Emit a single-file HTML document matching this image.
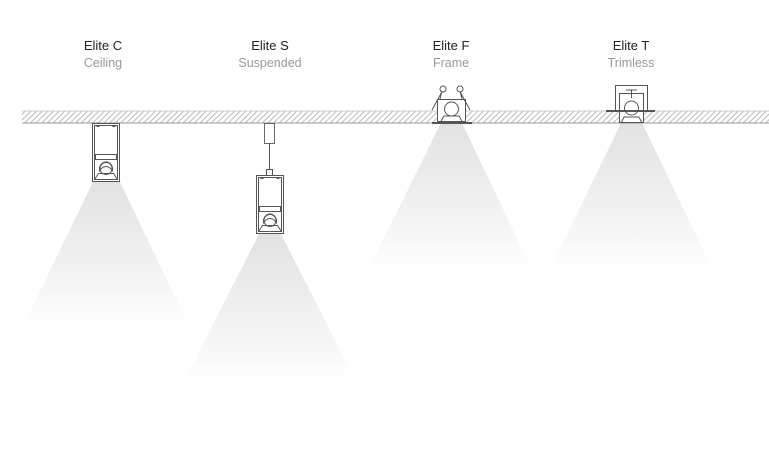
<!DOCTYPE html>
<html><head><meta charset="utf-8"><style>
body{margin:0;background:#fff;width:769px;height:450px;overflow:hidden}
svg{display:block}
text{font-family:"Liberation Sans",sans-serif;text-anchor:middle}
</style></head><body>
<svg width="769" height="450" viewBox="0 0 769 450">
<defs>
<pattern id="h" width="4" height="4" patternUnits="userSpaceOnUse" patternTransform="rotate(45)">
<rect width="4" height="4" fill="#fff"/><line x1="0" y1="0" x2="0" y2="4" stroke="#a8a8a8" stroke-width="1.6"/></pattern>
<linearGradient id="g" x1="0" y1="0" x2="0" y2="1">
<stop offset="0" stop-color="#e2e2e2"/><stop offset="0.6" stop-color="#f2f2f2"/><stop offset="1" stop-color="#fff"/></linearGradient>
<g id="lum" fill="none" stroke="#555" stroke-width="1">
<rect x="0" y="0" width="27" height="58" fill="#fff"/>
<rect x="2" y="2" width="23" height="54"/>
<rect x="3" y="31" width="21" height="5"/>
<path d="M7 48 A7 8 0 0 1 20 48 L20 44 A7 9 0 0 0 7 44Z"/>
<circle cx="13.5" cy="45" r="6"/>
<path d="M2 56 L6 50 L21 50 L25 56"/>
<path d="M4 3 h3 M20 3 h3"/>
</g>
</defs>
<text x="103" y="50" font-size="13" fill="#222">Elite C</text>
<text x="103" y="67" font-size="12.5" fill="#999">Ceiling</text>
<text x="270" y="50" font-size="13" fill="#222">Elite S</text>
<text x="270" y="67" font-size="12.5" fill="#999">Suspended</text>
<text x="451" y="50" font-size="13" fill="#222">Elite F</text>
<text x="451" y="67" font-size="12.5" fill="#999">Frame</text>
<text x="631" y="50" font-size="13" fill="#222">Elite T</text>
<text x="631" y="67" font-size="12.5" fill="#999">Trimless</text>

<polygon points="93,182 120,182 190,328 22,328" fill="url(#g)"/>
<polygon points="259,234 281,234 356,382 184,382" fill="url(#g)"/>
<polygon points="441,123 462,123 533,272 367,272" fill="url(#g)"/>
<polygon points="621,123 642,123 714,272 549,272" fill="url(#g)"/>

<rect x="22" y="111" width="747" height="12" fill="url(#h)"/>
<line x1="22" y1="123" x2="769" y2="123" stroke="#999"/>
<line x1="22" y1="111" x2="769" y2="111" stroke="#ccc"/>

<use href="#lum" x="92.5" y="123.5"/>
<rect x="264.5" y="123.5" width="10" height="20" fill="#fff" stroke="#666"/>
<line x1="269.5" y1="143" x2="269.5" y2="170" stroke="#555"/>
<rect x="266.5" y="169.5" width="6" height="6" fill="#fff" stroke="#555"/>
<use href="#lum" x="256.5" y="175.5"/>

<g fill="none" stroke="#555">
<rect x="437.5" y="99.5" width="28" height="22" fill="#fff"/>
<circle cx="451.5" cy="109" r="7"/>
<path d="M440 99 L442 91 M462 99 L460 91 M432 110 L444 88 M470 110 L458 88"/>
<circle cx="443" cy="89" r="3" fill="#fff"/><circle cx="460" cy="89" r="3" fill="#fff"/>
<path d="M432 123 h40" stroke-width="2"/>
<path d="M440 123 L444 116 L459 116 L463 123"/>
</g>
<g fill="none" stroke="#555">
<path d="M615.5 111 V85.5 H647.5 V111"/>
<rect x="619.5" y="93.5" width="24" height="29" fill="#fff"/>
<path d="M626 90 h11 M631.5 90 v8"/>
<circle cx="631.5" cy="108" r="7"/>
<path d="M606 111 h49" stroke-width="2"/>
<path d="M621 123 L624 117 L639 117 L642 123"/>
</g>
</svg>
</body></html>
